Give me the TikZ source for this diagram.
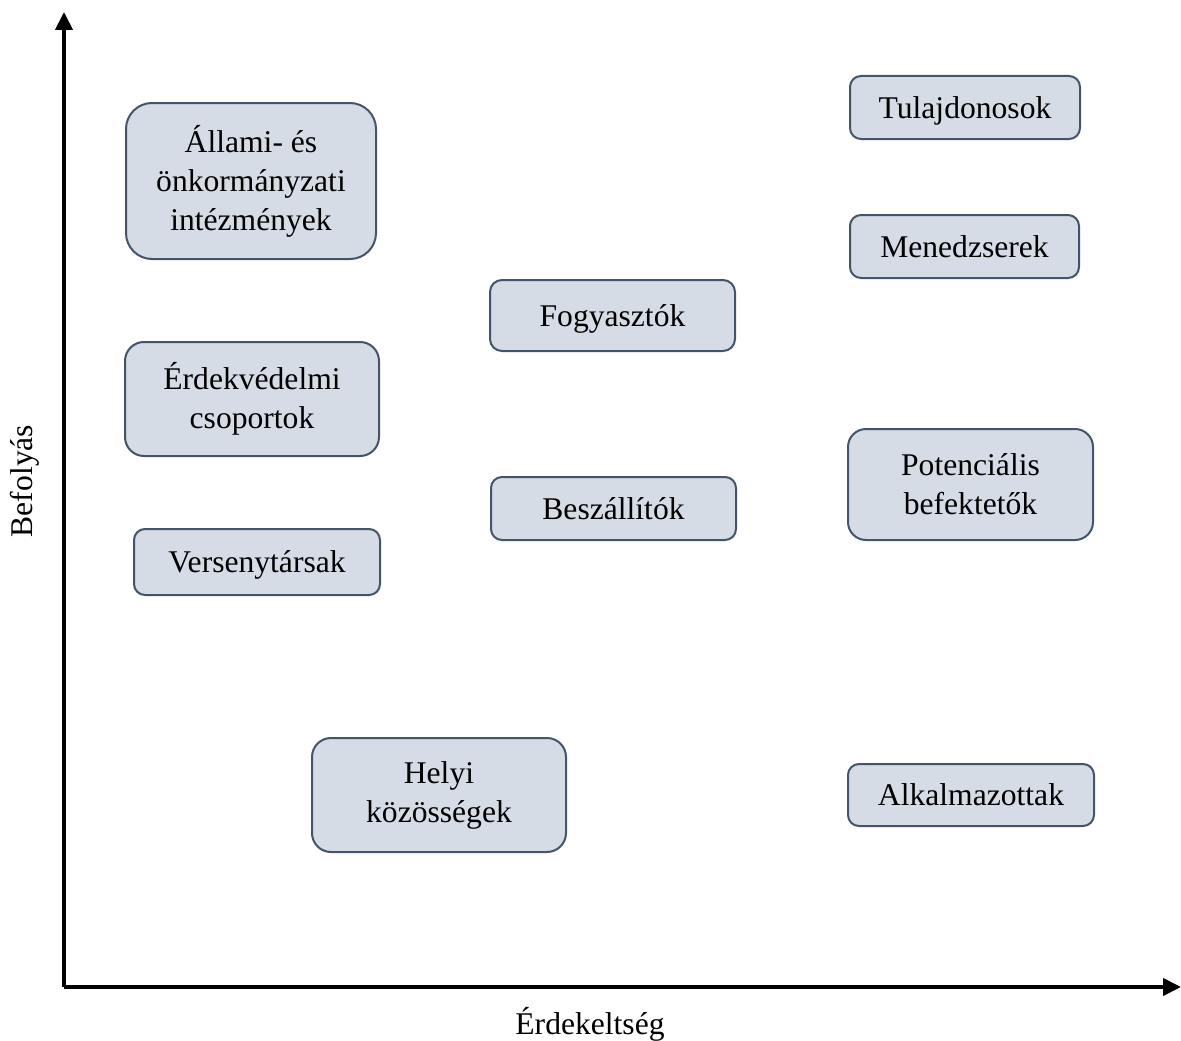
\documentclass[tikz,border=0pt]{standalone}
\usepackage{fontspec}
\setmainfont{Liberation Serif}
\usetikzlibrary{arrows.meta}
\definecolor{boxfill}{HTML}{D6DCE5}
\definecolor{boxline}{HTML}{44546A}
\tikzset{
  stake/.style={draw=boxline, line width=2pt, fill=boxfill, rounded corners=#1,
    align=center, inner sep=0pt, font=\fontsize{31.6}{39}\selectfont},
  oneline/.style={text height=22pt, text depth=1pt},
  axisline/.style={line width=4pt, -{Triangle[width=17pt,length=18pt]}},
  axislabel/.style={font=\fontsize{31.6}{39}\selectfont}
}
\begin{document}
\begin{tikzpicture}[x=1pt,y=-1pt]
\useasboundingbox (0,0) rectangle (1181,1041);
% axes
\coordinate (O) at (64,987);
\coordinate (Ytop) at (64,12);
\coordinate (Xend) at (1181,987);
\draw[axisline] (O) -- (Ytop);
\draw[axisline] (O) -- (Xend);
\node[axislabel, rotate=90] (ylab) at (25,481) {Befolyás};
\node[axislabel, oneline] (xlab) at (590,1024) {Érdekeltség};
% boxes
\node[stake=26pt, minimum width=250pt, minimum height=156pt] (allami) at (251,181) {Állami- és\\önkormányzati\\intézmények};
\node[stake=19pt, minimum width=254pt, minimum height=114pt] (erdek) at (252,399) {Érdekvédelmi\\csoportok};
\node[stake=11pt, oneline, minimum width=246pt, minimum height=66pt] (verseny) at (257,562) {Versenytársak};
\node[stake=12pt, oneline, minimum width=245pt, minimum height=71pt] (fogy) at (612.5,315.5) {Fogyasztók};
\node[stake=11pt, oneline, minimum width=245pt, minimum height=63pt] (besz) at (613.5,508.5) {Beszállítók};
\node[stake=19pt, minimum width=254pt, minimum height=114pt] (helyi) at (439,795) {Helyi\\közösségek};
\node[stake=11pt, oneline, minimum width=230pt, minimum height=63pt] (tulaj) at (965,107.5) {Tulajdonosok};
\node[stake=11pt, oneline, minimum width=229pt, minimum height=63pt] (menedzs) at (964.5,246.5) {Menedzserek};
\node[stake=18pt, minimum width=245pt, minimum height=111pt] (pot) at (970.5,484.5) {Potenciális\\befektetők};
\node[stake=11pt, oneline, minimum width=246pt, minimum height=62pt] (alk) at (971,795) {Alkalmazottak};
\end{tikzpicture}
\end{document}
